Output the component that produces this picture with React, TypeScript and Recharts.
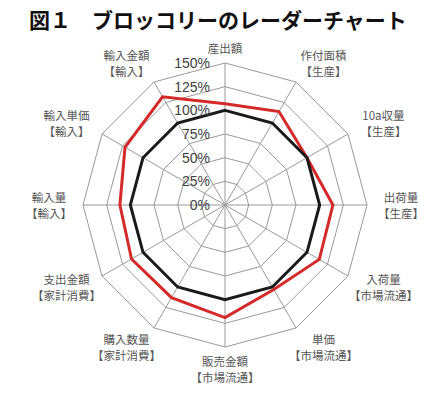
import React from "react";
import {
  PolarAngleAxis,
  PolarGrid,
  PolarRadiusAxis,
  Radar,
  RadarChart,
} from "recharts";

const categories = [
  "産出額",
  "作付面積",
  "10a収量",
  "出荷量",
  "入荷量",
  "単価",
  "販売金額",
  "購入数量",
  "支出金額",
  "輸入量",
  "輸入単価",
  "輸入金額",
];
const groups = [
  "",
  "【生産】",
  "【生産】",
  "【生産】",
  "【市場流通】",
  "【市場流通】",
  "【市場流通】",
  "【家計消費】",
  "【家計消費】",
  "【輸入】",
  "【輸入】",
  "【輸入】",
];
const baseValues = [100, 100, 100, 100, 100, 100, 100, 100, 100, 100, 100, 100];
const currentValues = [107, 114, 100, 114, 115, 103, 119, 113, 114, 111, 122, 132];
const radiusTicks = [0, 25, 50, 75, 100, 125, 150];

const W = 435;
const H = 395;
const CX = 225;
const CY = 205;
const OUTER = 142;

const data = categories.map((name, i) => ({
  name,
  group: groups[i],
  base: baseValues[i],
  current: currentValues[i],
}));

// labels sit on a slightly wide ellipse around the plot, like the spreadsheet output
const AngleTick = (props: any) => {
  const { x, y, payload, index } = props;
  const dx = x - CX;
  const dy = y - CY;
  const d = Math.hypot(dx, dy) || 1;
  const ux = dx / d;
  const uy = dy / d;
  const lx = CX + ux * (176 + 28 * uy * uy);
  const ly = CY + uy * 164;
  const group = groups[index];
  const style = {
    fontFamily: "'Noto Sans CJK JP', sans-serif",
    fontSize: 11.5,
    fill: "#555",
  };
  if (!group) {
    return (
      <text x={lx} y={ly + 7} textAnchor="middle" dominantBaseline="central" style={style}>
        {payload.value}
      </text>
    );
  }
  return (
    <g>
      <text x={lx} y={ly - 8} textAnchor="middle" dominantBaseline="central" style={style}>
        {payload.value}
      </text>
      <text x={lx} y={ly + 8} textAnchor="middle" dominantBaseline="central" style={style}>
        {group}
      </text>
    </g>
  );
};

const RadiusTick = (props: any) => {
  const { x, y, payload } = props;
  return (
    <text
      x={x - 15}
      y={y}
      textAnchor="end"
      dominantBaseline="central"
      style={{ fontFamily: "'Liberation Sans', Arial, sans-serif", fontSize: 14, fill: "#404040" }}
    >
      {payload.value}%
    </text>
  );
};

export default function App() {
  return (
    <div style={{ position: "absolute", left: 0, top: 0, width: W, height: H, background: "#fff" }}>
      <svg style={{ position: "absolute", left: 0, top: 0 }} width={W} height={36}>
        <text
          x={29}
          y={19}
          dominantBaseline="central"
          style={{ fontFamily: "'Noto Sans CJK JP', sans-serif", fontSize: 21, fontWeight: 700, fill: "#111" }}
        >
          図１　ブロッコリーのレーダーチャート
        </text>
      </svg>
      <div style={{ position: "absolute", left: 0, top: 0 }}>
        <RadarChart
          width={W}
          height={H}
          data={data}
          cx={CX}
          cy={CY}
          outerRadius={OUTER}
          startAngle={90}
          endAngle={-270}
          margin={{ top: 0, right: 0, bottom: 0, left: 0 }}
        >
          <PolarGrid gridType="polygon" stroke="#9a9a9a" strokeWidth={1} />
          <PolarAngleAxis
            dataKey="name"
            tick={AngleTick}
            tickLine={false}
            axisLine={false}
          />
          <PolarRadiusAxis
            angle={90}
            domain={[0, 150]}
            ticks={radiusTicks}
            tickCount={7}
            axisLine={false}
            tickLine={false}
            tick={RadiusTick}
          />
          <Radar
            dataKey="current"
            stroke="#d42a2a"
            strokeWidth={3}
            fill="none"
            fillOpacity={0}
            dot={false}
            isAnimationActive={false}
          />
          <Radar
            dataKey="base"
            stroke="#1a1a1a"
            strokeWidth={3}
            fill="none"
            fillOpacity={0}
            dot={false}
            isAnimationActive={false}
          />
        </RadarChart>
      </div>
    </div>
  );
}
